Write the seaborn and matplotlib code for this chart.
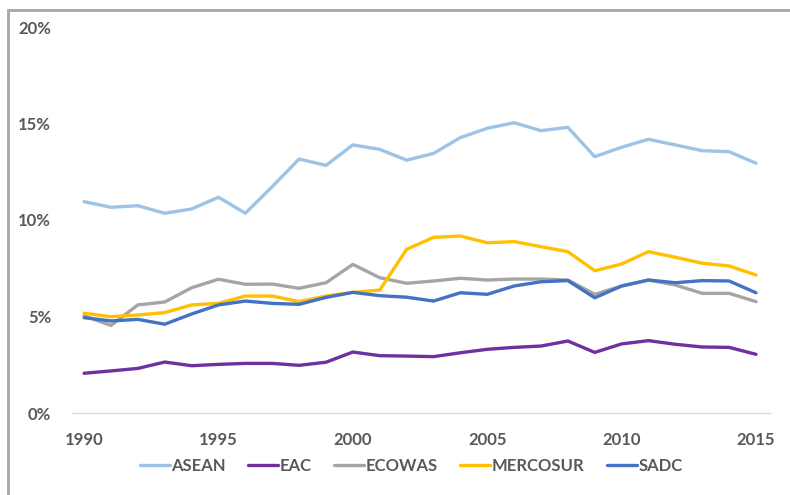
import matplotlib
matplotlib.use("Agg")
import matplotlib.pyplot as plt
import matplotlib.ticker as mticker
from matplotlib.patches import Rectangle
import numpy as np
import pandas as pd
import seaborn as sns

# ---- data (share, %) ----
years = list(range(1990, 2016))
asean = [10.95, 10.66, 10.74, 10.35, 10.57, 11.18, 10.35, 11.73, 13.16, 12.83,
         13.89, 13.66, 13.10, 13.45, 14.27, 14.75, 15.04, 14.63, 14.80, 13.28,
         13.77, 14.18, 13.89, 13.59, 13.54, 12.94]
eac = [2.06, 2.18, 2.31, 2.64, 2.45, 2.52, 2.57, 2.57, 2.47, 2.63,
       3.16, 2.97, 2.95, 2.92, 3.12, 3.30, 3.40, 3.47, 3.73, 3.14,
       3.58, 3.75, 3.56, 3.42, 3.40, 3.04]
ecowas = [5.03, 4.54, 5.60, 5.75, 6.49, 6.93, 6.67, 6.68, 6.46, 6.75,
          7.70, 7.01, 6.72, 6.84, 6.98, 6.89, 6.94, 6.94, 6.89, 6.15,
          6.58, 6.89, 6.63, 6.20, 6.20, 5.77]
mercosur = [5.17, 4.99, 5.08, 5.20, 5.60, 5.68, 6.06, 6.06, 5.77, 6.06,
            6.25, 6.37, 8.48, 9.10, 9.17, 8.82, 8.88, 8.62, 8.36, 7.37,
            7.72, 8.36, 8.07, 7.76, 7.62, 7.15]
sadc = [4.94, 4.77, 4.85, 4.60, 5.13, 5.60, 5.80, 5.68, 5.63, 5.99,
        6.25, 6.08, 6.00, 5.80, 6.23, 6.15, 6.58, 6.80, 6.86, 5.97,
        6.58, 6.89, 6.75, 6.86, 6.84, 6.23]

groups = ["ASEAN", "EAC", "ECOWAS", "MERCOSUR", "SADC"]
colors = ["#9DC3E6", "#7030A0", "#A5A5A5", "#FFC000", "#4472C4"]

df = pd.DataFrame({"year": years, "ASEAN": asean, "EAC": eac, "ECOWAS": ecowas,
                   "MERCOSUR": mercosur, "SADC": sadc})
long = df.melt(id_vars="year", var_name="group", value_name="share")
long["share"] = long["share"] / 100

sns.set_style("white")
plt.rcParams["font.family"] = ["Lato", "DejaVu Sans"]

fig = plt.figure(figsize=(7.9, 4.95), dpi=100)
ax = fig.add_axes([72 / 790, 1 - 413 / 495, 698 / 790, 386 / 495])

sns.lineplot(data=long, x="year", y="share", hue="group", hue_order=groups,
             palette=colors, linewidth=2.4, ax=ax)

ax.set_xlim(1989.55, 2015.52)
ax.set_ylim(0, 0.20)
ax.set_xticks([1990, 1995, 2000, 2005, 2010, 2015])
ax.set_yticks([0, 0.05, 0.10, 0.15, 0.20])
ax.yaxis.set_major_formatter(mticker.PercentFormatter(1.0, decimals=0))
ax.set_xlabel("")
ax.set_ylabel("")

for s in ["top", "right", "left"]:
    ax.spines[s].set_visible(False)
ax.spines["bottom"].set_color("#D9D9D9")
ax.spines["bottom"].set_linewidth(1.0)
ax.tick_params(axis="both", length=0, labelsize=12, labelcolor="#595959")
ax.tick_params(axis="y", pad=15)
ax.tick_params(axis="x", pad=14)
for lab in ax.get_xticklabels() + ax.get_yticklabels():
    lab.set_fontweight("bold")

ax.legend(loc="upper center", bbox_to_anchor=(0.486, -0.078), ncol=5, frameon=False,
          handlelength=1.8, handletextpad=0.1, columnspacing=1.33,
          prop={"size": 12, "weight": "bold"}, labelcolor="#595959")

# chart-area border (only top and left edges visible in the crop)
fig.patches.append(Rectangle((8, -20), 900, 495 - 10 + 20, transform=None,
                             fill=False, edgecolor="#A6A6A6", linewidth=2.0))

fig.savefig("out.png", dpi=100)
